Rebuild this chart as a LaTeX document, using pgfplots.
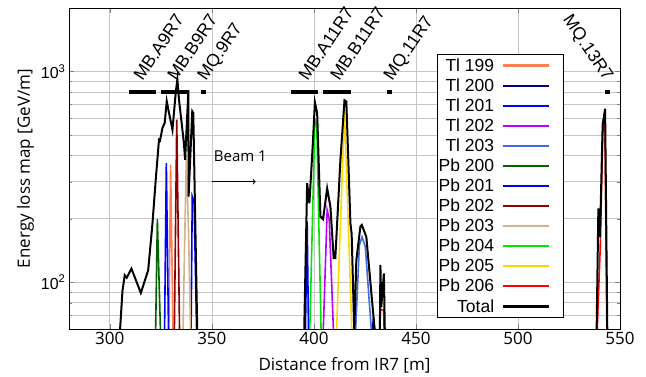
\documentclass[border=0pt]{standalone}
\usepackage{fontspec}
\setmainfont{Open Sans}
\newfontfamily\arial{Liberation Sans}
\usepackage{pgfplots}
\pgfplotsset{compat=1.18}
\definecolor{cTlA}{RGB}{255,127,80}
\definecolor{cTlB}{RGB}{0,0,128}
\definecolor{cTlC}{RGB}{0,0,255}
\definecolor{cTlD}{RGB}{185,0,255}
\definecolor{cTlE}{RGB}{65,105,225}
\definecolor{cPbA}{RGB}{0,100,0}
\definecolor{cPbB}{RGB}{0,0,240}
\definecolor{cPbC}{RGB}{139,0,0}
\definecolor{cPbD}{RGB}{210,180,140}
\definecolor{cPbE}{RGB}{0,230,0}
\definecolor{cPbF}{RGB}{255,215,0}
\definecolor{cPbG}{RGB}{255,0,0}
\pgfplotsset{limg/.style={legend image code/.code={\draw[draw=#1, line width=2.1pt] (0pt,0pt) -- (46pt,0pt); \path[draw=none] (46pt,0pt) -- (60pt,0pt);}}}
\begin{document}
\begin{tikzpicture}
\begin{axis}[
  name=ax,
  scale only axis, width=551pt, height=321pt,
  ymode=log, xmin=280, xmax=550, ymin=60, ymax=2000,
  xtick={300,350,400,450,500,550},
  ytick={100,1000}, yticklabels={10\textsuperscript{2},10\textsuperscript{3}},
  minor ytick={60,70,80,90,200,300,400,500,600,700,800,900,2000},
  xmajorgrids, ymajorgrids, yminorgrids,
  grid style={gray!45, line width=0.7pt},
  minor grid style={gray!45, line width=0.7pt},
  /pgf/number format/assume math mode=true,
  xticklabel style={font=\fontsize{17}{17}\selectfont},
  yticklabel style={font=\arial\fontsize{16}{16}\selectfont},
  xlabel={Distance from IR7 [m]}, ylabel={Energy loss map [GeV/m]},
  label style={font=\fontsize{17}{17}\selectfont},
  ylabel style={yshift=0pt},
  xlabel style={yshift=-6pt},
  axis line style={line width=0.9pt},
  major tick length=5pt, minor tick length=3pt,
  clip mode=individual,
  legend style={at={(0.667,0.856)}, anchor=north west,
    font=\arial\fontsize{17.5}{20}\selectfont,
    inner xsep=0pt, inner ysep=2pt, row sep=1.9pt, column sep=6pt},
  legend cell align=right, legend plot pos=right,
]
% Tl 199
\addplot[draw=cTlA, line width=1.6pt, limg=cTlA] coordinates {(328.9,55) (329.8,360) (331.0,55)};
\addlegendentry{Tl 199}
% Tl 200
\addplot[draw=cTlB, line width=1.6pt, limg=cTlB] coordinates {(428.4,55) (429.2,68) (430.0,55)};
\addlegendentry{Tl 200}
% Tl 201
\addplot[draw=cTlC, line width=1.6pt, limg=cTlC] coordinates {(326.8,55) (327.7,367) (328.8,55)};
\addlegendentry{Tl 201}
% Tl 202
\addplot[draw=cTlD, line width=1.6pt, limg=cTlD] coordinates {(404.5,55) (406.5,220) (407.5,200) (409.7,55)};
\addlegendentry{Tl 202}
% Tl 203
\addplot[draw=cTlE, line width=1.6pt, limg=cTlE] coordinates {(420.3,55) (422.3,150) (423.6,164) (425.2,147) (428.4,55)};
\addlegendentry{Tl 203}
% Pb 200
\addplot[draw=cPbA, line width=1.6pt, limg=cPbA] coordinates {(322.4,55) (323.3,199) (324.9,55)};
\addlegendentry{Pb 200}
% Pb 201
\addplot[draw=cPbB, line width=1.6pt, limg=cPbB] coordinates {(339.8,55) (340.4,255) (341.3,240) (342.6,55) (395.8,55) (396.7,194) (397.4,55)};
\addlegendentry{Pb 201}
% Pb 202
\addplot[draw=cPbC, line width=1.6pt, limg=cPbC] coordinates {(331.6,55) (332.8,591) (334.2,55)};
\addlegendentry{Pb 202}
% Pb 203
\addplot[draw=cPbD, line width=1.6pt, limg=cPbD] coordinates {(335.8,55) (337.5,400) (338.6,171) (339.6,55)};
\addlegendentry{Pb 203}
% Pb 204
\addplot[draw=cPbE, line width=1.6pt, limg=cPbE] coordinates {(397.9,55) (400.5,591) (401.4,560) (403.6,55)};
\addlegendentry{Pb 204}
% Pb 205
\addplot[draw=cPbF, line width=1.6pt, limg=cPbF] coordinates {(411.0,55) (415.0,647) (418.7,55)};
\addlegendentry{Pb 205}
% Pb 206
\addplot[draw=cPbG, line width=1.6pt, limg=cPbG] coordinates {(432.3,55) (432.6,74) (434.2,74) (434.5,55) (538.7,55) (540.3,145) (541.5,500) (542.6,620) (543.6,55)};
\addlegendentry{Pb 206}
% Total
\addplot[draw=black, line width=2pt, limg=black] coordinates {
(304.8,55) (306.2,91) (307.3,108) (308.3,105) (310.6,116) (315.2,89) (318.8,114)
(320.9,190) (322.5,306) (324.1,474) (324.6,470) (325.8,540) (326.9,570) (327.9,722)
(329.0,636) (330.7,529) (332.3,792) (333.1,916) (333.9,735) (336.3,458) (336.9,381)
(338.5,815) (338.6,255) (340.4,647) (340.9,636) (342.9,55)
(395.2,55) (396.7,295) (397.8,237) (399.5,458) (400.5,714) (401.6,636) (403.2,205)
(404.5,199) (406.5,279) (408.1,228) (409.7,130) (410.5,130) (413.0,381) (415.0,730)
(415.9,720) (417.9,190) (418.5,170) (419.8,58) (420.8,127) (422.8,184) (423.5,187)
(425.7,164) (430.1,55) (432.3,55) (432.6,121) (433.0,76) (434.3,110) (434.8,55)
(538.5,55) (539.4,224) (540.2,164) (541.5,560) (542.7,665) (543.8,55)};
\addlegendentry{Total}
% magnet bars
\addplot[black, line width=3.5pt, forget plot] coordinates {(309.4,800) (322.5,800)};
\addplot[black, line width=3.5pt, forget plot] coordinates {(325.0,800) (338.8,800)};
\addplot[black, line width=3.5pt, forget plot] coordinates {(344.5,800) (347.0,800)};
\addplot[black, line width=3.5pt, forget plot] coordinates {(388.6,800) (402.1,800)};
\addplot[black, line width=3.5pt, forget plot] coordinates {(404.4,800) (418.2,800)};
\addplot[black, line width=3.5pt, forget plot] coordinates {(435.9,800) (438.3,800)};
\addplot[black, line width=3.5pt, forget plot] coordinates {(542.7,800) (545.1,800)};
% magnet labels
\begin{scope}[every node/.style={font=\arial\fontsize{17.5}{17.5}\selectfont, inner sep=0pt}]
\node[rotate=56, anchor=base west] at (axis cs:316.0,890) {MB.A9R7};
\node[rotate=56, anchor=base west] at (axis cs:332.5,890) {MB.B9R7};
\node[rotate=56, anchor=base west] at (axis cs:347.2,890) {MQ.9R7};
\node[rotate=56, anchor=base west] at (axis cs:396.9,890) {MB.A11R7};
\node[rotate=56, anchor=base west] at (axis cs:412.4,890) {MB.B11R7};
\node[rotate=56, anchor=base west] at (axis cs:438.4,890) {MQ.11R7};
\node[rotate=-56, anchor=base east] at (axis cs:542.5,890) {MQ.13R7};
\end{scope}
\node[anchor=base west, font=\fontsize{15}{15}\selectfont, inner sep=0pt] at (axis cs:350.9,373) {Beam 1};
\draw[->, line width=1pt] (axis cs:350,300) -- (axis cs:371.5,300);
\end{axis}
\pgfresetboundingbox
\path ([xshift=-69pt,yshift=-47pt]ax.south west) rectangle ([xshift=26pt,yshift=8pt]ax.north east);
\end{tikzpicture}
\end{document}
